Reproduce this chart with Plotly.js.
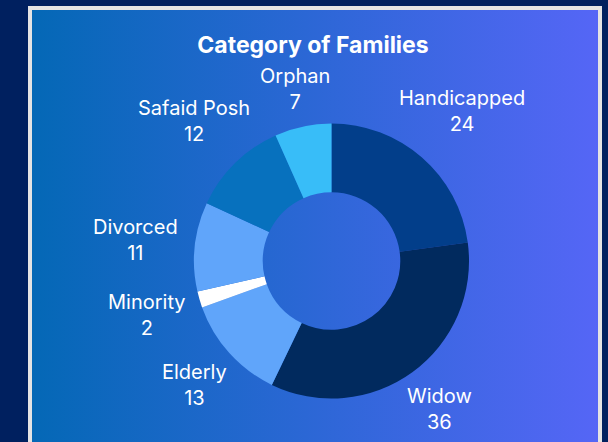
<!DOCTYPE html>
<html>
<head>
<meta charset="utf-8">
<script src="https://cdn.plot.ly/plotly-3.0.1.min.js"></script>
<style>
  html, body { margin: 0; padding: 0; width: 608px; height: 442px; overflow: hidden; background: #00205f; }
  #card { position: absolute; left: 28px; top: 6px; width: 566px; height: 460px;
          border: 4px solid #e4e4e4; background: linear-gradient(to right, #0468b6, #5566f6); }
  #chart { position: absolute; left: 0; top: 0; width: 608px; height: 442px; }
</style>
</head>
<body>
<div id="card"></div>
<div id="chart"></div>
<script>
const categories = ["Handicapped", "Widow", "Elderly", "Minority", "Divorced", "Safaid Posh", "Orphan"];
const counts = [24, 36, 13, 2, 11, 12, 7];
const sliceColors = ["#023e8a", "#012a5e", "#60a5fa", "#ffffff", "#60a5fa", "#0771be", "#38bdf8"];

const W = 608, H = 442;
const domX = [0.3191, 0.7714];
const domY = [0.0984, 0.7206];
const labelFont = { family: "Inter, sans-serif", size: 20, color: "#ffffff" };

// label positions derived from the data (mid-angle of each slice)
const cx = (domX[0] + domX[1]) / 2 * W;
const cy = (1 - (domY[0] + domY[1]) / 2) * H;
const R = Math.min((domX[1] - domX[0]) * W, (domY[1] - domY[0]) * H) / 2;
const total = counts.reduce((a, b) => a + b, 0);
const ctx = document.createElement("canvas").getContext("2d");
ctx.font = labelFont.size + "px Inter";
let cum = 0;
const annotations = categories.map((c, i) => {
  const mid = (cum + counts[i] / 2) / total * 2 * Math.PI;
  cum += counts[i];
  const w = Math.max(ctx.measureText(c).width, ctx.measureText(String(counts[i])).width);
  const s = Math.sin(mid), co = Math.cos(mid);
  const h = co < 0 ? 54 : 40;
  const e = Math.sqrt(Math.pow(w / 2 * s, 2) + Math.pow(h / 2 * co, 2));
  const d = R + 17 + e;
  const px = cx + d * s, py = cy - d * co;
  return {
    text: c + "<br>" + counts[i], x: px / W, y: 1 - py / H, xref: "paper", yref: "paper",
    xanchor: "center", yanchor: "middle", showarrow: false, font: labelFont, align: "center"
  };
});

const data = [{
  type: "pie",
  labels: categories,
  values: counts,
  hole: 0.5,
  sort: false,
  direction: "clockwise",
  rotation: 0,
  textinfo: "none",
  marker: { colors: sliceColors, line: { width: 0 } },
  domain: { x: domX, y: domY },
  showlegend: false
}];

const layout = {
  width: W, height: H,
  margin: { l: 0, r: 0, t: 0, b: 0 },
  paper_bgcolor: "rgba(0,0,0,0)",
  plot_bgcolor: "rgba(0,0,0,0)",
  showlegend: false,
  title: {
    text: "<b>Category of Families</b>",
    x: 313 / W, xanchor: "center", y: 1 - 45 / H, yanchor: "middle",
    xref: "container", yref: "container",
    font: { family: "Inter, sans-serif", size: 23, color: "#ffffff" }
  },
  annotations: annotations
};

Plotly.newPlot("chart", data, layout, { displayModeBar: false, staticPlot: true });
</script>
</body>
</html>
